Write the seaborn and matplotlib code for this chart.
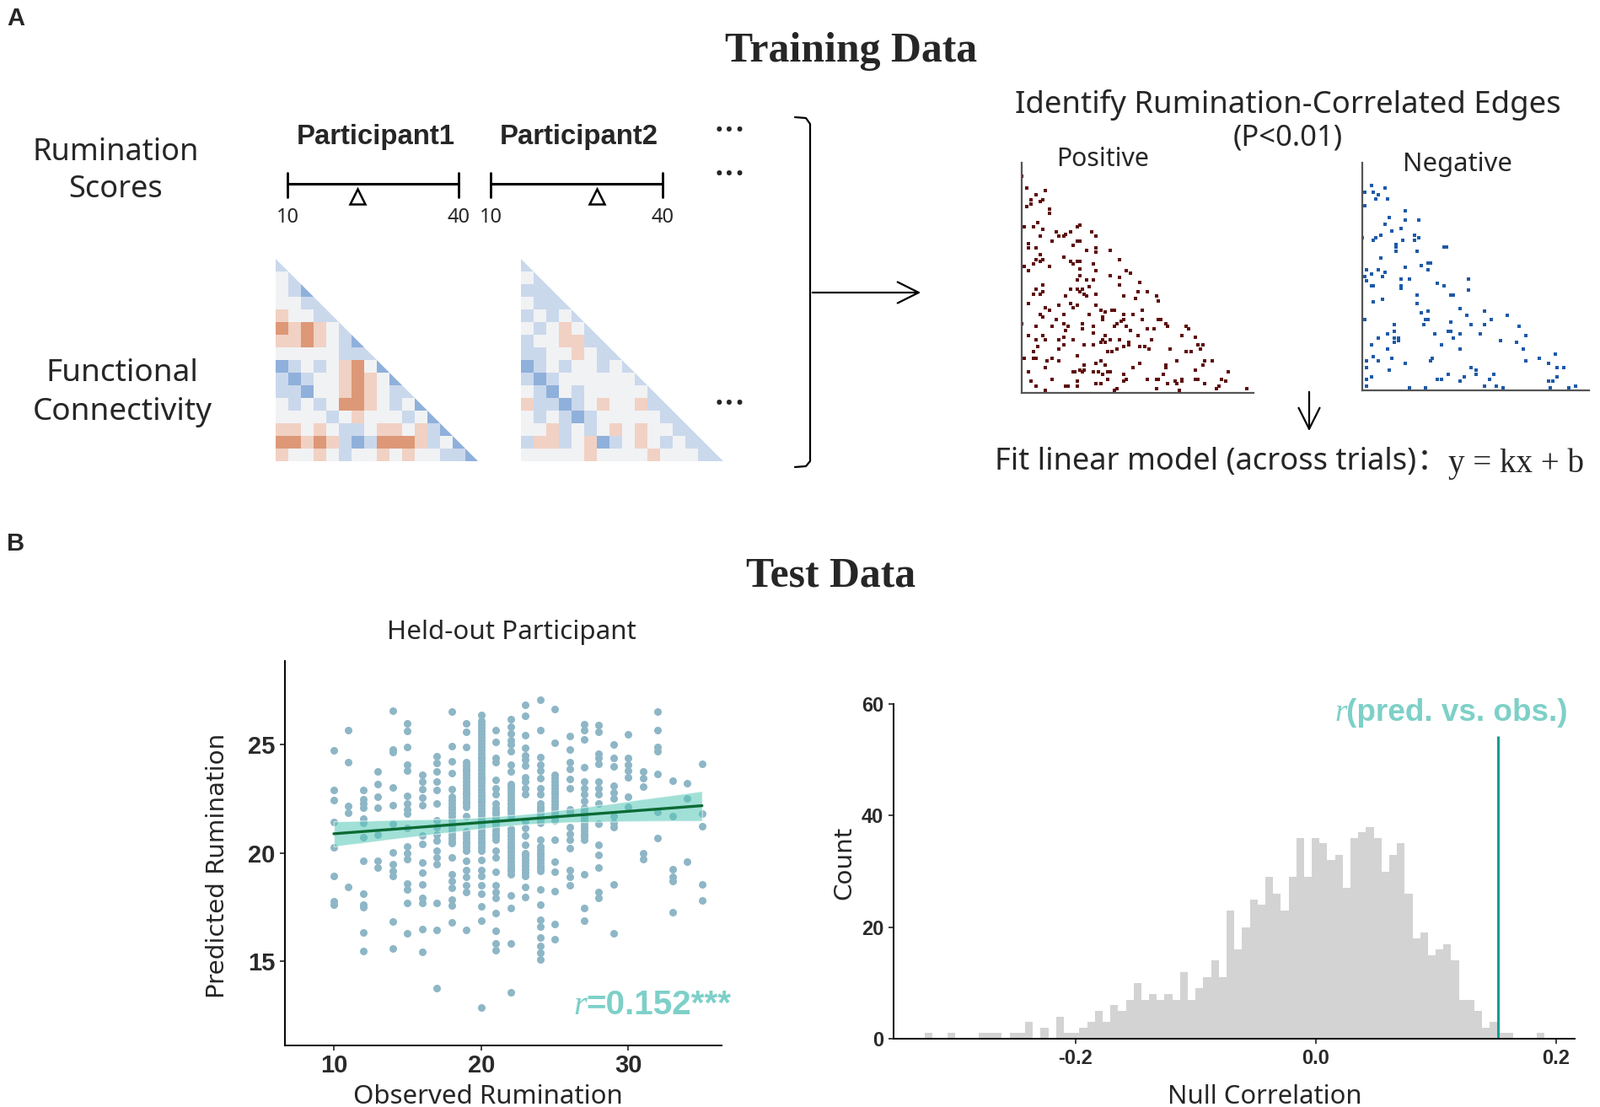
import numpy as np
import pandas as pd
import seaborn as sns
import matplotlib.pyplot as plt
from matplotlib import font_manager
from matplotlib.colors import LinearSegmentedColormap
from matplotlib.patches import Polygon
from matplotlib.collections import PolyCollection

W, H = 1898, 1313

# ---- panel A data ----
score_range = [10, 40]
participant_scores = [22.3, 28.6]

# coarse read of the two connectivity matrices (B/b blue, . neutral, r/R red)
fc_participant1 = [
    "b",
    ".b",
    ".bB",
    "..bb",
    "r..bb",
    "RrRr.b",
    "rrRr.bB",
    ".....bbb",
    "Bb.b.rR.B",
    "bBb..rRr.B",
    "bbB..rRr.bb",
    ".b.b.RRr.b.B",
    "....b.r...b.B",
    "rr.r.bb.rr.rbB",
    "RRrRrbBbRRRrb.B",
    "r..r.b..r.r..bbB",
]
fc_participant2 = [
    "b",
    ".b",
    "bbb",
    ".bbb",
    "b.b.b",
    ".b.r.b",
    "b..rrbb",
    "bb..r.bb",
    "Bb.b..b.b",
    "bBb......b",
    ".bB.b.....b",
    "rbbBb.r..rbb",
    ".b.bBb.....bb",
    "..rb.b.r.r..bb",
    "brrb.rBb.r.b.bb",
    ".....r....r...bb",
]

# significant edges (column node, row node) on a 100-node grid
positive_edges = [
    (2, 11), (10, 12), (0, 6), (6, 14), (4, 16), (8, 17), (9, 16), (4, 18), (2, 19), (12, 20), (12, 22),
    (1, 28), (5, 28), (7, 26), (9, 29), (8, 32), (15, 30), (16, 32), (18, 32), (19, 31), (21, 30), (24, 28), (25, 27),
    (3, 35), (3, 37), (6, 37), (13, 34), (18, 41), (22, 36), (24, 34), (25, 34), (28, 38), (32, 37), (32, 39), (30, 30), (32, 32),
    (1, 45), (3, 47), (5, 44), (6, 42), (8, 40), (8, 43), (9, 42), (12, 45), (21, 43), (22, 44), (24, 43), (25, 43), (25, 46),
    (31, 44), (32, 47), (25, 49), (24, 51), (28, 51), (31, 51), (29, 54), (38, 38), (42, 42), (45, 47), (47, 48),
    (9, 53), (5, 57), (6, 55), (8, 57), (9, 56), (21, 55), (24, 55), (26, 55), (27, 57), (32, 57), (19, 58), (25, 56), (28, 58),
    (3, 61), (10, 63), (12, 64), (16, 62), (18, 66), (21, 61), (22, 63), (24, 62), (32, 62), (34, 64), (36, 65), (39, 64),
    (40, 64), (42, 50), (42, 53), (38, 49), (44, 58), (49, 59), (50, 56), (51, 52), (54, 56), (58, 58), (59, 60),
    (8, 66), (9, 67), (15, 68), (18, 70), (20, 71), (26, 70), (29, 66), (31, 71), (35, 67), (35, 68), (40, 71), (41, 70),
    (43, 69), (44, 68), (45, 71), (44, 66), (48, 66), (52, 64), (52, 68), (54, 72), (57, 72), (59, 68), (60, 68), (62, 70),
    (63, 71), (71, 71), (72, 72),
    (0, 70), (6, 71), (13, 71), (19, 73), (26, 72), (31, 74), (36, 75), (42, 77), (46, 78), (50, 75), (47, 73), (56, 77),
    (69, 75), (75, 76),
    (3, 75), (6, 77), (9, 75), (10, 77), (16, 77), (18, 76), (22, 77), (27, 79), (31, 79), (35, 77), (36, 78), (38, 77),
    (34, 78), (37, 82), (39, 82), (41, 81), (44, 80), (46, 79), (51, 80), (53, 80), (55, 81), (64, 81), (71, 82), (73, 82),
    (76, 79), (78, 79), (77, 81),
    (5, 82), (7, 80), (16, 81), (18, 79), (24, 84), (13, 85), (16, 86), (5, 85), (6, 85), (1, 85), (11, 86), (25, 90),
    (27, 88), (32, 87), (34, 86), (36, 88), (26, 91), (22, 91), (23, 91), (27, 90), (31, 91), (33, 91), (35, 92), (37, 91),
    (38, 91), (48, 89), (51, 87), (62, 88), (62, 89), (67, 86), (78, 88), (79, 86), (82, 86), (75, 90), (89, 91),
    (3, 91), (10, 89), (13, 94), (4, 95), (6, 97), (10, 99), (19, 97), (20, 97), (24, 95), (24, 97), (32, 96), (34, 96),
    (37, 94), (40, 99), (41, 98), (44, 92), (44, 95), (45, 94), (54, 94), (58, 94), (59, 94), (58, 98), (61, 92), (63, 96),
    (66, 95), (67, 96), (69, 94), (69, 95), (68, 99), (75, 94), (76, 94), (79, 96), (84, 98), (85, 97), (86, 94), (88, 95),
    (97, 98),
]
negative_edges = [
    (4, 10), (10, 11), (1, 13), (5, 13), (7, 14), (6, 16), (11, 16), (1, 19),
    (19, 21), (12, 24), (19, 25), (25, 25), (10, 27), (17, 29), (13, 30), (0, 33), (5, 34), (6, 33), (8, 32), (18, 34),
    (23, 32), (23, 34), (25, 33),
    (15, 36), (15, 37), (36, 37), (37, 37), (15, 39), (24, 39), (8, 42), (30, 44), (29, 44), (26, 45), (29, 47), (19, 46),
    (2, 47), (7, 47), (10, 48), (1, 50), (4, 49), (9, 50), (2, 52), (4, 54), (5, 54), (17, 51), (21, 51), (17, 54), (17, 55),
    (47, 51), (33, 53), (36, 54), (47, 56),
    (24, 58), (39, 58), (40, 58), (5, 61), (9, 60), (24, 62), (43, 64), (54, 65), (26, 66), (29, 65), (46, 67), (64, 67),
    (1, 69), (28, 69), (29, 69), (57, 69), (39, 70), (14, 71), (27, 71), (48, 71), (54, 71), (69, 72),
    (14, 74), (11, 75), (32, 75), (38, 74), (39, 74), (43, 75), (52, 75), (40, 77), (7, 77), (14, 77), (16, 77), (16, 78),
    (14, 79), (72, 76), (61, 78), (68, 79),
    (4, 80), (35, 80), (11, 82), (43, 82), (71, 82), (5, 85), (13, 86), (2, 87), (7, 87), (31, 86), (30, 87), (72, 87),
    (78, 86), (85, 84), (82, 88), (19, 88), (2, 90),
    (12, 91), (48, 90), (50, 91), (86, 90), (89, 90), (38, 93), (50, 93), (58, 93), (86, 94), (45, 94), (4, 94), (2, 95),
    (33, 95), (35, 95), (56, 95), (43, 96), (82, 96), (84, 96), (2, 98), (59, 98), (94, 98), (54, 98), (21, 99), (28, 99),
    (62, 99), (83, 99), (91, 99),
]

# ---- panel B data ----
# predicted scores for each observed score (overlapping runs read as closely spaced points)
predicted_by_observed = {
    10: [24.74, 22.90, 22.43, 21.43, 20.27, 18.94, 17.75, 17.6],
    11: [25.70, 24.18, 22.18, 21.84, 18.42],
    12: [22.90, 22.5, 22.3, 22.08, 21.6, 21.4, 20.74, 19.64, 18.13, 17.6, 17.5, 16.33, 15.47],
    13: [23.77, 23.18, 22.60, 22.11, 20.86, 19.64, 19.33],
    14: [26.56, 24.8, 24.65, 23.03, 22.21, 21.36, 20.02, 19.49, 19.15, 18.95, 16.84, 15.57],
    15: [26.00, 25.64, 24.90, 24.1, 23.8, 22.63, 22.3, 22.0, 21.8, 21.17, 20.3, 20.0, 19.7, 18.6, 18.3, 17.69, 16.27],
    16: [23.6, 23.3, 22.95, 22.55, 22.2, 20.8, 20.4, 19.54, 19.1, 18.53, 17.9, 17.7, 16.48, 15.41],
    17: [24.48, 24.15, 23.75, 23.3, 22.9, 22.30, 21.5, 21.2, 20.85, 20.56, 20.1, 19.8, 19.48, 17.68, 16.45, 13.73],
    18: [26.52, 24.94, 24.22, 23.7, 22.95, 22.6, 22.45, 22.3, 22.15, 22.0, 21.85, 21.7, 21.5, 21.3, 21.15, 21.0,
         20.85, 20.7, 20.55, 20.45, 19.78, 19.0, 18.7, 18.4, 17.85, 17.55, 16.78],
    19: [25.98, 25.6, 24.9, 24.2, 24.05, 23.9, 23.75, 23.6, 23.45, 23.3, 23.15, 23.0, 22.85, 22.7, 22.55, 22.4,
         22.28, 22.15, 21.69, 21.0, 20.85, 20.7, 20.55, 20.4, 20.25, 20.1, 19.64, 19.2, 18.9, 18.5, 18.2, 16.44],
    20: [26.39, 26.1, 25.95, 25.8, 25.65, 25.5, 25.35, 25.2, 25.05, 24.9, 24.75, 24.6, 24.45, 24.3, 24.15, 24.0,
         23.85, 23.7, 23.55, 23.4, 23.25, 23.1, 22.95, 22.8, 22.65, 22.5, 22.35, 22.2, 22.05, 21.9, 21.75, 21.6,
         21.45, 21.3, 21.15, 21.0, 20.85, 20.7, 20.55, 20.4, 20.25, 20.1, 19.67, 19.2, 18.95, 18.5, 18.1, 17.51,
         16.85, 12.83],
    21: [25.70, 25.13, 24.4, 24.2, 23.38, 23.0, 22.7, 22.3, 22.1, 21.95, 21.8, 21.65, 21.5, 21.35, 21.2, 21.05,
         20.9, 20.75, 20.6, 20.1, 19.8, 19.11, 18.5, 18.2, 17.9, 17.23, 16.39, 15.8, 15.5],
    22: [26.17, 25.85, 25.52, 25.2, 25.0, 24.71, 24.09, 23.75, 23.2, 23.05, 22.9, 22.75, 22.6, 22.45, 22.3, 22.15,
         22.0, 21.85, 21.7, 21.1, 20.95, 20.8, 20.65, 20.5, 20.35, 20.2, 20.05, 19.9, 19.75, 19.6, 19.45, 19.3,
         19.15, 19.0, 18.05, 17.46, 15.81, 13.53],
    23: [26.86, 26.34, 25.46, 24.85, 24.5, 24.3, 24.05, 23.5, 23.3, 23.0, 22.7, 21.45, 21.15, 20.8, 20.39, 20.0,
         19.85, 19.7, 19.55, 19.4, 19.25, 19.1, 18.92, 18.44, 17.95],
    24: [27.08, 25.69, 24.45, 24.1, 23.8, 23.44, 23.0, 22.7, 22.3, 22.15, 22.0, 21.85, 21.7, 21.55, 21.4, 20.61,
         20.3, 20.15, 20.0, 19.85, 19.7, 19.55, 19.4, 19.28, 19.15, 18.30, 17.61, 16.9, 16.6, 16.09, 15.7, 15.4,
         15.05],
    25: [26.67, 25.1, 23.6, 23.45, 23.3, 23.15, 23.0, 22.85, 22.7, 22.55, 22.4, 22.25, 22.1, 21.95, 21.8, 21.65,
         21.5, 20.6, 19.60, 19.11, 18.23, 16.72, 16.00],
    26: [25.39, 24.77, 24.2, 23.9, 23.4, 23.0, 22.0, 21.9, 21.2, 20.9, 20.6, 20.2, 19.2, 18.9, 18.50],
    27: [25.95, 25.7, 25.26, 23.96, 23.3, 23.0, 22.7, 22.4, 22.1, 21.95, 21.8, 21.65, 21.5, 21.35, 21.2, 21.05,
         20.9, 20.75, 20.6, 19.02, 17.43, 16.85],
    28: [25.9, 25.6, 24.6, 24.4, 24.12, 23.3, 23.0, 22.7, 22.3, 21.36, 20.39, 19.90, 19.31, 18.2, 17.9],
    29: [25.0, 24.4, 24.0, 23.1, 22.8, 22.53, 21.7, 21.4, 21.2, 18.53, 16.29],
    30: [25.48, 24.4, 24.1, 23.8, 23.5, 22.6, 22.12],
    31: [23.77, 23.44, 23.08, 20.0, 19.7],
    32: [26.52, 25.69, 24.9, 24.7, 23.64, 21.9, 20.67],
    33: [23.34, 21.69, 19.24, 18.9, 18.7, 17.27],
    34: [23.21, 22.53, 19.60],
    35: [24.12, 21.82, 21.23, 18.55, 17.79],
}

# permutation null distribution, counts per bin (bins centred on multiples of the width)
null_counts = [1, 0, 0, 1, 0, 0, 0, 1, 1, 1, 0, 1, 1, 3, 0, 2, 0, 4, 1, 1,
               2, 3, 5, 3, 6, 5, 7, 10, 7, 8, 7, 8, 7, 12, 7, 9, 11, 14, 11, 23,
               16, 20, 25, 24, 29, 26, 23, 29, 36, 29, 36, 35, 32, 33, 27, 36, 37, 38, 36, 30,
               33, 35, 26, 18, 19, 15, 16, 17, 14, 7, 7, 5, 2, 3, 1, 1, 0, 0, 0, 1]
null_first_bin = -50
null_bin_width = 0.00645
observed_r = 0.152
observed_line_top = 54.3

# ---- style ----
sns.set_theme(style="white")
installed = {f.name for f in font_manager.fontManager.ttflist}
NARROW = "Liberation Sans Narrow" if "Liberation Sans Narrow" in installed else "Liberation Sans"
plt.rcParams["font.family"] = ["Noto Sans", "Noto Sans CJK SC", "DejaVu Sans"]
TEAL_TEXT = "#7dd0c8"

fig = plt.figure(figsize=(W / 100, H / 100), dpi=100)
ov = fig.add_axes([0, 0, 1, 1])
ov.set_xlim(0, W)
ov.set_ylim(H, 0)
ov.axis("off")
rend = fig.canvas.get_renderer()


def box(x0, y0, x1, y1):
    return fig.add_axes([x0 / W, 1 - y1 / H, (x1 - x0) / W, (y1 - y0) / H])


def put(x, y, s, width=None, size=20, rot=0, **kw):
    kw.setdefault("va", "baseline")
    t = ov.text(x, y, s, fontsize=size, rotation=rot, **kw)
    if width:
        bb = t.get_window_extent(renderer=rend)
        span = bb.height if rot else bb.width
        t.set_fontsize(size * width / span)
    return t


# ---- panel letters and titles ----
put(8, 30, "A", size=21, weight="bold", family="Liberation Sans")
put(8, 653, "B", size=21, weight="bold", family="Liberation Sans")
put(1010, 73, "Training Data", 299, family="Liberation Serif", weight="bold", ha="center")
put(986, 696, "Test Data", 201, family="Liberation Serif", weight="bold", ha="center")

# ---- panel A, left side ----
t = put(137, 190, "Rumination", 197, ha="center")
put(137, 234, "Scores", size=t.get_fontsize(), ha="center")
t = put(145, 498, "Connectivity", 213, ha="center")
put(145, 452, "Functional", size=t.get_fontsize(), ha="center")

for name, cx in [("Participant1", 446), ("Participant2", 687)]:
    put(cx, 171, name, 188, family=NARROW, weight="bold", ha="center")

for yy in [158, 210, 482]:
    put(866, yy, "···", 38, weight="bold", ha="center", va="center")

lo, hi = score_range
for score, (x0, x1) in zip(participant_scores, [(341, 544), (582, 786)]):
    ov.plot([x0, x1], [218, 218], color="black", lw=2.2)
    ov.plot([x0, x0], [205, 234], color="black", lw=2)
    ov.plot([x1, x1], [205, 234], color="black", lw=2)
    sx = x0 + (score - lo) / (hi - lo) * (x1 - x0)
    ov.plot(sx, 233, marker="^", ms=13, mfc="white", mec="black", mew=1.8)
    put(x0, 264, str(lo), size=17, ha="center")
    put(x1, 264, str(hi), size=17, ha="center")

code = {"B": -2, "b": -1, ".": 0, "r": 1, "R": 2}
fc_cmap = LinearSegmentedColormap.from_list(
    "fc", ["#8fb0db", "#cad8ec", "#f1f2f4", "#f1d2c4", "#dd9877"])
for grid, x0 in [(fc_participant1, 327), (fc_participant2, 618)]:
    n = len(grid)
    mat = np.array([[code[c] for c in row] + [np.nan] * (n - len(row)) for row in grid])
    ax = box(x0, 307, x0 + 240, 547)
    sns.heatmap(mat, ax=ax, cmap=fc_cmap, vmin=-2, vmax=2, cbar=False,
                xticklabels=False, yticklabels=False)
    tri = Polygon([[0, 0], [0, n], [n, n]], transform=ax.transData)
    ax.collections[0].set_clip_path(tri)
    ax.axis("off")

# bracket and arrows
ov.plot([943, 956, 961, 961, 956, 943], [139, 140, 147, 547, 553, 554], color="black", lw=1.6)
ov.annotate("", xy=(1095, 347), xytext=(961, 347),
            arrowprops=dict(arrowstyle="->", lw=1.6, color="black", mutation_scale=45))
ov.annotate("", xy=(1553, 514), xytext=(1553, 462),
            arrowprops=dict(arrowstyle="->", lw=1.6, color="black", mutation_scale=45))

# ---- panel A, right side ----
put(1528, 134, "Identify Rumination-Correlated Edges", 647, ha="center")
put(1528, 173, "(P<0.01)", 130, ha="center")
put(1308, 197, "Positive", 110, ha="center")
put(1729, 203, "Negative", 130, ha="center")
t = put(1180, 557, "Fit linear model (across trials)", 499)
put(1681, 557, "：", size=t.get_fontsize(), family=["Noto Sans CJK SC", "DejaVu Sans"])
put(1718, 560, "y = kx + b", 161, family="Liberation Serif")

for edges, color, (x0, y0, x1, y1) in [
        (positive_edges, "#5e0c0c", (1212, 193, 1487, 466)),
        (negative_edges, "#1d5aa8", (1616, 193, 1885, 463))]:
    ax = box(x0, y0, x1, y1)
    edf = pd.DataFrame(edges, columns=["node_a", "node_b"])
    sns.scatterplot(data=edf, x="node_a", y="node_b", marker="s", s=9, color=color,
                    linewidth=0, ax=ax)
    ax.set_xlim(0, 100)
    ax.set_ylim(100, 0)
    ax.set_xticks([])
    ax.set_yticks([])
    ax.set_xlabel("")
    ax.set_ylabel("")
    ax.set_facecolor("none")
    for side in ["top", "right"]:
        ax.spines[side].set_visible(False)
    for side in ["left", "bottom"]:
        ax.spines[side].set_color("#555555")
        ax.spines[side].set_linewidth(1.6)

# ---- panel B, scatter ----
obs, pred = [], []
for score, vals in predicted_by_observed.items():
    obs += [score] * len(vals)
    pred += vals
df = pd.DataFrame({"observed": obs, "predicted": pred})

ax = box(338, 784, 856, 1240)
sns.regplot(data=df, x="observed", y="predicted", ax=ax, ci=95, color="#0b6a34",
            scatter_kws=dict(s=42, color="#8db6c6", linewidths=0, alpha=1),
            line_kws=dict(lw=2.4))
for coll in ax.collections:
    if isinstance(coll, PolyCollection):
        coll.set_facecolor("#55c8b6")
        coll.set_alpha(0.55)
ax.set_xlim(6.68, 36.33)
ax.set_ylim(11.09, 28.88)
ax.set_xticks([10, 20, 30])
ax.set_yticks([15, 20, 25])
ax.set_xlabel("")
ax.set_ylabel("")
ax.set_facecolor("none")
sns.despine(ax=ax)

# ---- panel B, null histogram ----
k = null_first_bin + np.arange(len(null_counts))
hist_df = pd.DataFrame({"null_r": k * null_bin_width, "count": null_counts})
lo_edge = (null_first_bin - 0.5) * null_bin_width
hi_edge = (null_first_bin + len(null_counts) - 0.5) * null_bin_width
hx = box(1060, 835, 1868, 1232)
sns.histplot(data=hist_df, x="null_r", weights="count", binwidth=null_bin_width,
             binrange=(lo_edge, hi_edge), element="step", color="#d3d3d3",
             alpha=1, linewidth=0, ax=hx)
hx.vlines(observed_r, 0, observed_line_top, color="#149d90", lw=2.2)
hx.set_xlim(-0.3514, 0.2157)
hx.set_ylim(0, 60)
hx.set_xticks([-0.2, 0.0, 0.2])
hx.set_xticklabels(["-0.2", "0.0", "0.2"])
hx.set_yticks([0, 20, 40, 60])
hx.set_xlabel("")
hx.set_ylabel("")
hx.set_facecolor("none")
sns.despine(ax=hx)

for a, size, xpad, ypad in [(ax, 21, 3, 4.5), (hx, 17, 5, 4.5)]:
    a.tick_params(bottom=True, left=True, length=4, width=1.3, color="#333333",
                  labelsize=size, labelcolor="#2a2a2a")
    a.tick_params(axis="x", pad=xpad)
    a.tick_params(axis="y", pad=ypad)
    for lab in a.get_xticklabels() + a.get_yticklabels():
        lab.set_fontfamily(NARROW)
        lab.set_fontweight("bold")
    for side in ["left", "bottom"]:
        a.spines[side].set_color("black")
        a.spines[side].set_linewidth(1.4)

put(607, 758, "Held-out Participant", 296, ha="center")
put(579, 1309, "Observed Rumination", 320, ha="center")
put(1500, 1309, "Null Correlation", 231, ha="center")
put(258, 1027, "Predicted Rumination", 315, rot=90, family="DejaVu Sans", ha="center", va="center")
put(1001, 1023, "Count", 87, rot=90, family="DejaVu Sans", ha="center", va="center")

t = put(867, 1203, "=0.152***", 172, weight="bold", color=TEAL_TEXT, ha="right",
        family="Liberation Sans")
x_left = t.get_window_extent(renderer=rend).x0
put(x_left + 1, 1203, "r", size=t.get_fontsize(), style="italic", color=TEAL_TEXT, ha="right",
    family="Liberation Serif")

t = put(1860, 855, "(pred. vs. obs.)", 262, weight="bold", color=TEAL_TEXT, ha="right",
        family="Liberation Sans")
x_left = t.get_window_extent(renderer=rend).x0
put(x_left + 1, 855, "r", size=t.get_fontsize(), style="italic", color=TEAL_TEXT, ha="right",
    family="Liberation Serif")

fig.savefig("out.png", dpi=100)
